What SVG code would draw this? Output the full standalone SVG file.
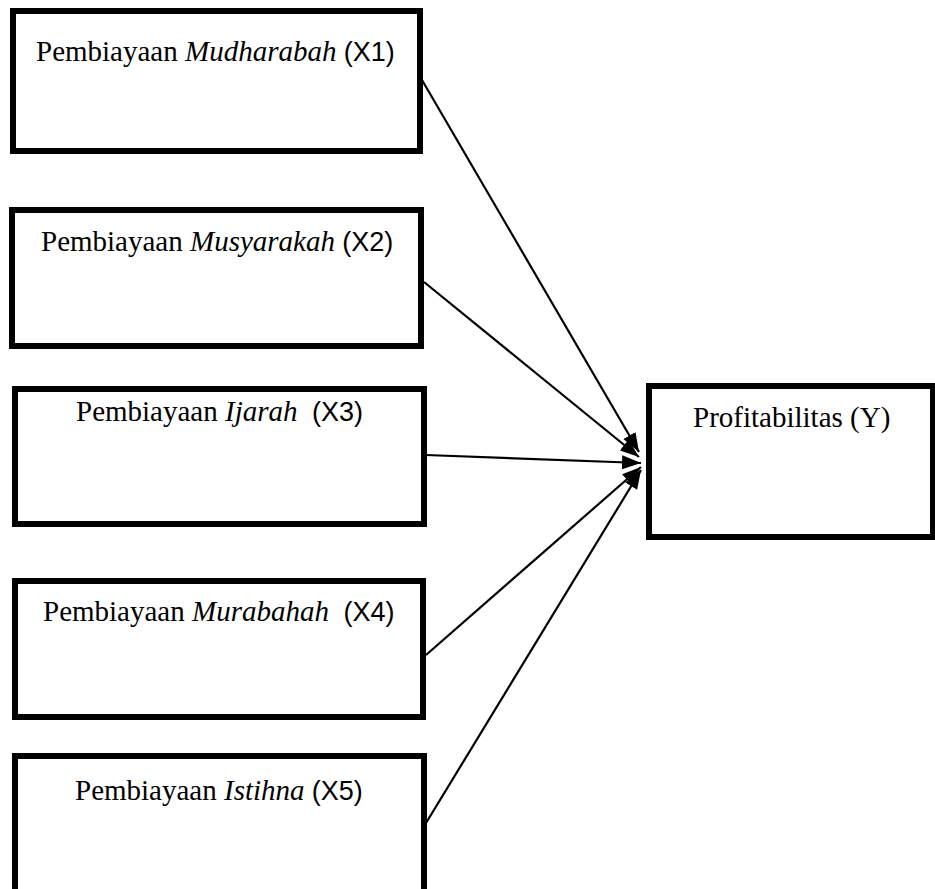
<svg xmlns="http://www.w3.org/2000/svg" width="935" height="889" viewBox="0 0 935 889">
<style>
.box{fill:#fff;stroke:#000;stroke-width:6}
.t{font-family:"Liberation Serif","Times New Roman",serif;font-size:29px;fill:#000;white-space:pre}
.i{font-style:italic}
.s{font-family:"Liberation Sans",Arial,sans-serif;font-size:27px}
.c{stroke:#000;stroke-width:2.2;fill:none;marker-end:url(#ah)}
</style>
<defs>
<marker id="ah" markerUnits="userSpaceOnUse" markerWidth="22" markerHeight="16" refX="19" refY="8" orient="auto">
<path d="M0,1 L19,8 L0,15 Z" fill="#000"/>
</marker>
</defs>
<rect width="935" height="889" fill="#fff"/>
<g id="connectors">
<line class="c" x1="422" y1="80" x2="639" y2="452"/>
<line class="c" x1="424" y1="282" x2="639" y2="457"/>
<line class="c" x1="426" y1="455" x2="641" y2="463"/>
<line class="c" x1="426" y1="655" x2="641" y2="467"/>
<line class="c" x1="426" y1="823" x2="641" y2="470"/>
</g>
<g id="x1">
<rect class="box" x="13" y="11" width="407" height="140"/>
<text class="t" x="36" y="61">Pembiayaan <tspan class="i">Mudharabah</tspan> <tspan class="s">(X1)</tspan></text>
</g>
<g id="x2">
<rect class="box" x="12" y="210" width="409" height="136"/>
<text class="t" x="41" y="251">Pembiayaan <tspan class="i">Musyarakah</tspan> <tspan class="s">(X2)</tspan></text>
</g>
<g id="x3">
<rect class="box" x="15" y="389" width="409" height="135"/>
<text class="t" x="76" y="421">Pembiayaan <tspan class="i">Ijarah</tspan>  <tspan class="s">(X3)</tspan></text>
</g>
<g id="x4">
<rect class="box" x="15" y="581" width="408" height="136"/>
<text class="t" x="43" y="621">Pembiayaan <tspan class="i">Murabahah</tspan>  <tspan class="s">(X4)</tspan></text>
</g>
<g id="x5">
<rect class="box" x="15" y="756" width="409" height="150"/>
<text class="t" x="75" y="800">Pembiayaan <tspan class="i">Istihna</tspan> <tspan class="s">(X5)</tspan></text>
</g>
<g id="y">
<rect class="box" x="649" y="386" width="284" height="151"/>
<text class="t" x="693" y="427">Profitabilitas (Y)</text>
</g>
</svg>
